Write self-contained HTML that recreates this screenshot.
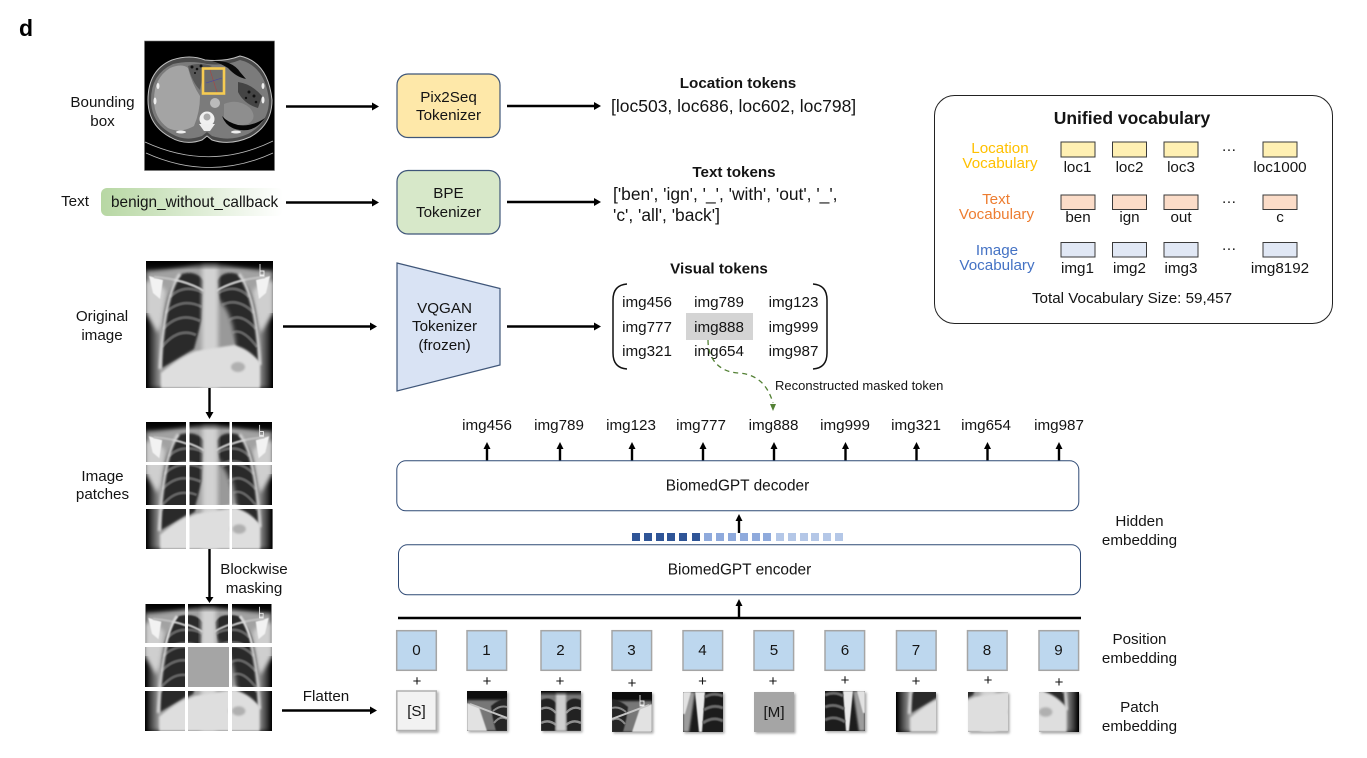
<!DOCTYPE html>
<html><head><meta charset="utf-8"><style>
html,body{margin:0;padding:0;background:#fff;width:1367px;height:758px;overflow:hidden}
svg{display:block}
text{font-family:"Liberation Sans",sans-serif;font-size:15.2px;fill:#141414}
.m{text-anchor:middle}
.b{font-weight:bold}
.a{stroke:#000;stroke-width:2.4;fill:none}
.h{fill:#000;stroke:none}
.p{fill:#bdd7ee;stroke:#a5a5a5;stroke-width:1.5}
.v{stroke:#3a3a3a;stroke-width:1}
.q{font-size:15px}
</style></head><body>
<svg width="1367" height="758" viewBox="0 0 1367 758" xmlns="http://www.w3.org/2000/svg">
<defs>
<linearGradient id="pill"><stop offset="0" stop-color="#b7d7a3"/><stop offset="1" stop-color="#fff"/></linearGradient>
<linearGradient id="edgeL"><stop offset="0" stop-color="#000"/><stop offset="1" stop-color="#000" stop-opacity="0"/></linearGradient>
<linearGradient id="edgeR"><stop offset="0" stop-color="#000" stop-opacity="0"/><stop offset="1" stop-color="#000"/></linearGradient>
<linearGradient id="topd" x1="0" y1="0" x2="0" y2="1"><stop offset="0" stop-color="#000"/><stop offset="1" stop-color="#000" stop-opacity="0"/></linearGradient>
<filter id="b05" x="-20%" y="-20%" width="140%" height="140%"><feGaussianBlur stdDeviation=".6"/></filter>
<filter id="b1" x="-20%" y="-20%" width="140%" height="140%"><feGaussianBlur stdDeviation="1"/></filter>
<filter id="b2" x="-20%" y="-20%" width="140%" height="140%"><feGaussianBlur stdDeviation="2.2"/></filter>
<filter id="sh" x="-10%" y="-10%" width="125%" height="125%"><feDropShadow dx="1.5" dy="1.5" stdDeviation="1.2" flood-color="#000" flood-opacity=".35"/></filter>
<g id="chest">
<rect width="127" height="127" fill="#101010"/>
<path d="M0 10 Q30 8 52 2 L75 2 Q97 8 127 10 L127 127 L0 127Z" fill="#a2a2a2" filter="url(#b2)"/>
<rect x="0" y="52" width="15" height="75" fill="url(#edgeL)"/>
<rect x="112" y="52" width="15" height="75" fill="url(#edgeR)"/>
<path d="M0 20 Q12 20 20 30 L16 62 L12 72 Q6 62 0 52Z" fill="#cfcfcf" filter="url(#b2)"/>
<path d="M127 20 Q115 20 107 30 L111 62 L115 72 Q121 62 127 52Z" fill="#cfcfcf" filter="url(#b2)"/>
<path d="M3 15 L17 19 L14 38 L7 32Z" fill="#f2f2f2" filter="url(#b05)"/>
<path d="M124 15 L110 19 L113 38 L120 32Z" fill="#f2f2f2" filter="url(#b05)"/>
<path d="M36 13 Q50 9 58 20 L56 58 L48 88 L16 107 Q14 62 22 36 Q27 20 36 13Z" fill="#2a2a2a" filter="url(#b1)"/>
<path d="M91 13 Q77 9 71 20 L74 45 L90 88 L113 100 Q114 62 106 36 Q101 20 91 13Z" fill="#2a2a2a" filter="url(#b1)"/>
<g fill="none" stroke="#7c7c7c" stroke-width="3" opacity=".7" filter="url(#b05)">
<path d="M24 36 Q38 22 58 32"/><path d="M19 52 Q36 36 56 46"/><path d="M17 68 Q34 50 54 60"/><path d="M16 86 Q32 66 50 74"/>
<path d="M103 36 Q90 22 72 32"/><path d="M108 52 Q92 36 76 44"/><path d="M110 68 Q94 50 82 60"/><path d="M111 86 Q96 66 86 72"/>
</g>
<path d="M8 16 Q38 18 58 30 M119 16 Q90 18 70 30" stroke="#bdbdbd" stroke-width="2.400" fill="none" filter="url(#b05)"/>
<path d="M34 13 Q18 34 14 108 M93 13 Q110 34 114 104" stroke="#d8d8d8" stroke-width="3" fill="none" filter="url(#b1)"/>
<path d="M72 38 Q88 52 90 88 L70 88Z" fill="#999" filter="url(#b2)"/>
<rect x="56" y="0" width="16" height="127" fill="#d2d2d2" filter="url(#b2)"/>
<path d="M15 112 Q34 96 50 90 L88 84 Q104 88 114 102 L114 127 L15 127Z" fill="#dedede" filter="url(#b1)"/>
<ellipse cx="92" cy="106" rx="7" ry="5" fill="#b0b0b0" filter="url(#b1)"/>
<rect x="0" y="0" width="127" height="9" fill="url(#topd)"/>
<path d="M114 3 V14 H118 M114 10 h4 v5 h-4z" stroke="#eee" stroke-width=".9" fill="none"/>
</g>
<g id="p1">
<rect width="40" height="40" fill="#0d0d0d"/>
<path d="M0 9 H40 V40 H0Z" fill="#777" filter="url(#b1)"/>
<path d="M0 12 L12 16 L20 40 H0Z" fill="#e2e2e2" filter="url(#b05)"/>
<path d="M24 15 Q32 8 40 7 V40 H29 Q25 26 24 15Z" fill="#272727" filter="url(#b05)"/>
<path d="M26 20 Q33 14 40 16 M27 32 Q33 24 40 28" stroke="#888" stroke-width="2" fill="none"/>
<path d="M3 13 L40 27" stroke="#c4c4c4" stroke-width="2" fill="none"/>
</g>
<g id="p2">
<rect width="40" height="40" fill="#777"/>
<path d="M0 9 Q9 5 15 12 L14 40 H0Z" fill="#222" filter="url(#b05)"/>
<path d="M40 9 Q31 5 25 12 L26 40 H40Z" fill="#222" filter="url(#b05)"/>
<path d="M0 18 Q8 14 15 22 M0 32 Q8 28 15 34 M40 18 Q32 14 25 22 M40 32 Q32 28 25 34" stroke="#8e8e8e" stroke-width="2.400" fill="none"/>
<rect x="15" width="10" height="40" fill="#cfcfcf" filter="url(#b1)"/>
<rect width="40" height="5" fill="url(#topd)"/>
</g>
<g id="p4">
<rect width="40" height="40" fill="#1d1d1d"/>
<path d="M0 0 H12 L6 40 H0Z" fill="#9c9c9c" filter="url(#b1)"/>
<path d="M0 0 H8 L2 22 L0 22Z" fill="#e2e2e2" filter="url(#b05)"/>
<path d="M12 0 H22 L19 40 H16Z" fill="#eaeaea" filter="url(#b05)"/>
<path d="M22 5 Q30 0 40 4 M21 18 Q30 12 40 16 M20 31 Q30 24 40 29" stroke="#6a6a6a" stroke-width="3" fill="none" filter="url(#b05)"/>
</g>
</defs>

<text x="19" y="36" class="b" style="font-size:23px;fill:#000">d</text>

<!-- CT -->
<rect x="144.500" y="41" width="130" height="129.500" fill="#000" stroke="#777" stroke-width=".6"/>
<path d="M148 100 Q148 70 172 60 Q190 54 205 60 Q225 62 240 56 Q268 62 272 100 Q272 125 250 137 Q230 146 212 140 L207 136 L202 140 Q185 146 170 137 Q148 125 148 100Z" fill="#4a4a4a" stroke="#c0c0c0" stroke-width="1"/>
<path d="M151 100 Q151 74 173 64 Q190 60 207 64 Q226 66 240 60 Q265 66 269 100 Q269 123 248 134 Q230 142 212 136 L207 132 L202 136 Q185 142 172 134 Q151 123 151 100Z" fill="#7b7b7b"/>
<path d="M154 100 Q154 78 170 68 Q182 63 188 68 Q192 84 200 96 Q200 112 194 126 Q180 134 168 128 Q154 118 154 100Z" fill="#a4a4a4"/>
<path d="M188 66 Q198 62 212 66 L204 70 L200 90 Q192 82 188 66Z" fill="#575757"/>
<g fill="#111"><circle cx="192" cy="67" r="1.500"/><circle cx="197" cy="69" r="1.300"/><circle cx="201" cy="66" r="1.500"/><circle cx="195" cy="73" r="1"/></g>
<path d="M224 104 Q238 98 250 108 Q258 118 248 124 Q232 128 224 118Z" fill="#8e8e8e"/>
<path d="M222 116 Q228 132 248 130 Q258 128 265 118 Q252 127 238 125 Q227 122 222 116Z" fill="#050505"/>
<path d="M212 61 Q232 60 240 72 L246 79 Q236 77 228 68Q220 63 212 61Z" fill="#0a0a0a"/>
<path d="M238 82 Q252 84 262 96 L258 108 Q244 104 238 92Z" fill="#444"/>
<g fill="#111"><circle cx="249" cy="92" r="1.500"/><circle cx="254" cy="96" r="1.500"/><circle cx="256" cy="102" r="1.300"/><circle cx="246" cy="98" r="1.200"/></g>
<circle cx="207" cy="119" r="7.500" fill="#f0f0f0"/><circle cx="207" cy="117" r="3.500" fill="#aaa"/>
<circle cx="215" cy="103" r="5" fill="#bbb"/>
<path d="M199 124 L215 124 L210 131 L204 131Z" fill="#eee"/>
<path d="M145 142 Q210 172 273 141 M146 153 Q210 182 273 153" fill="none" stroke="#bbb" stroke-width=".8"/>
<ellipse cx="181" cy="132" rx="5" ry="1.500" fill="#eee"/><ellipse cx="236" cy="132" rx="5" ry="1.500" fill="#eee"/>
<ellipse cx="155" cy="101" rx="1.500" ry="3.500" fill="#eee"/><ellipse cx="158" cy="86" rx="1.500" ry="3" fill="#eee"/><ellipse cx="263" cy="100" rx="1.500" ry="3.500" fill="#eee"/><ellipse cx="263" cy="86" rx="1.500" ry="3" fill="#eee"/>
<rect x="203" y="68.500" width="21" height="25" fill="#6c6c6c" stroke="#f6cb52" stroke-width="2.600"/>
<path d="M210 70 L217 92" stroke="#a44" stroke-width=".6"/><path d="M206 83 L222 78" stroke="#44a" stroke-width=".6"/>

<text x="102.500" y="107" class="m">Bounding</text><text x="102.500" y="126" class="m">box</text>
<text x="75" y="206" class="m">Text</text>
<rect x="101" y="188" width="182" height="28" rx="6" fill="url(#pill)"/>
<text x="111" y="207" style="font-size:15.350px">benign_without_callback</text>

<svg x="146" y="261" width="127" height="127" viewBox="0 0 127 127"><use href="#chest"/></svg>
<text x="102" y="321" class="m">Original</text><text x="102" y="340" class="m">image</text>

<!-- top patches -->
<g>
<svg x="146" y="422" width="40" height="40" viewBox="0 0 42 42"><use href="#chest"/></svg>
<svg x="189.500" y="422" width="40" height="40" viewBox="42.500 0 42 42"><use href="#chest"/></svg>
<svg x="232" y="422" width="40" height="40" viewBox="85 0 42 42"><use href="#chest"/></svg>
<svg x="146" y="465" width="40" height="40" viewBox="0 42.500 42 42"><use href="#chest"/></svg>
<svg x="189.500" y="465" width="40" height="40" viewBox="42.500 42.500 42 42"><use href="#chest"/></svg>
<svg x="232" y="465" width="40" height="40" viewBox="85 42.500 42 42"><use href="#chest"/></svg>
<svg x="146" y="509" width="40" height="40" viewBox="0 85 42 42"><use href="#chest"/></svg>
<svg x="189.500" y="509" width="40" height="40" viewBox="42.500 85 42 42"><use href="#chest"/></svg>
<svg x="232" y="509" width="41" height="40" viewBox="85 85 42 42"><use href="#chest"/></svg>
</g>
<text x="102.500" y="481" class="m">Image</text><text x="102.500" y="499" class="m">patches</text>

<!-- masked patches -->
<g>
<svg x="145" y="604" width="40" height="39" viewBox="0 0 42 42"><use href="#chest"/></svg>
<svg x="188" y="604" width="40" height="39" viewBox="42.500 0 42 42"><use href="#chest"/></svg>
<svg x="232" y="604" width="40" height="39" viewBox="85 0 42 42"><use href="#chest"/></svg>
<svg x="145" y="647" width="40" height="40" viewBox="0 42.500 42 42"><use href="#chest"/></svg>
<rect x="188" y="647" width="41" height="40" fill="#a5a5a5"/>
<svg x="232" y="647" width="40" height="40" viewBox="85 42.500 42 42"><use href="#chest"/></svg>
<svg x="145" y="691" width="40" height="40" viewBox="0 85 42 42"><use href="#chest"/></svg>
<svg x="188" y="691" width="40" height="40" viewBox="42.500 85 42 42"><use href="#chest"/></svg>
<svg x="232" y="691" width="40" height="40" viewBox="85 85 42 42"><use href="#chest"/></svg>
</g>

<text x="254" y="574" class="m">Blockwise</text><text x="254" y="593" class="m">masking</text>
<text x="326" y="701" class="m">Flatten</text>

<!-- left arrows -->
<path class="a" d="M286 106.500H372M286 202.500H372M283 326.500H370M507 106H594M507 202H594M507 326.500H594M282 710.500H370"/>
<path class="h" d="M372 102.500L379 106.500L372 110.500ZM372 198.500L379 202.500L372 206.500ZM370 322.500L377 326.500L370 330.500ZM594 102L601 106L594 110ZM594 198L601 202L594 206ZM594 322.500L601 326.500L594 330.500ZM370 706.500L377 710.500L370 714.500Z"/>
<path class="a" d="M209.500 388V412M209.500 549V597"/>
<path class="h" d="M205.500 412L209.500 419L213.500 412ZM205.500 597L209.500 603L213.500 597Z"/>

<!-- tokenizers -->
<rect x="397" y="74" width="103" height="63.500" rx="11" fill="#fee8a9" stroke="#3f5679" stroke-width="1.200"/>
<text x="448.500" y="102" class="m">Pix2Seq</text><text x="448.500" y="120" class="m">Tokenizer</text>
<rect x="397" y="170.500" width="103" height="63.500" rx="11" fill="#d7e8c9" stroke="#3f5679" stroke-width="1.200"/>
<text x="448.500" y="198" class="m">BPE</text><text x="448.500" y="217" class="m">Tokenizer</text>
<path d="M397 263L500 288.500V365L397 391Z" fill="#d9e3f4" stroke="#3f5679" stroke-width="1.200"/>
<text x="444.500" y="313" class="m">VQGAN</text><text x="444.500" y="331" class="m">Tokenizer</text><text x="444.500" y="350" class="m">(frozen)</text>

<!-- tokens -->
<text x="738" y="88" class="m b">Location tokens</text>
<text x="611" y="112" style="font-size:17.500px">[loc503, loc686, loc602, loc798]</text>
<text x="734" y="177" class="m b">Text tokens</text>
<text x="613" y="200" style="font-size:17.400px">['ben', 'ign', '_', 'with', 'out', '_',</text>
<text x="613" y="221" style="font-size:17.400px">'c', 'all', 'back']</text>
<text x="719" y="273.500" class="m b">Visual tokens</text>

<rect x="686" y="313" width="67" height="27" fill="#d4d4d4"/>
<path d="M627 284 Q613 285 613 300V353Q613 368 627 369M813 284Q827 285 827 300V353Q827 368 813 369" fill="none" stroke="#111" stroke-width="1.500"/>
<text x="647" y="307" class="m">img456</text><text x="719" y="307" class="m">img789</text><text x="793.500" y="307" class="m">img123</text>
<text x="647" y="332" class="m">img777</text><text x="719" y="332" class="m">img888</text><text x="793.500" y="332" class="m">img999</text>
<text x="647" y="356" class="m">img321</text><text x="719" y="356" class="m">img654</text><text x="793.500" y="356" class="m">img987</text>

<path d="M708 340 C708 362 722 372 738 373 C758 374 768 386 773 403" fill="none" stroke="#538135" stroke-width="1.300" stroke-dasharray="5 4"/>
<path d="M770 404L773 411L776 404Z" fill="#538135"/>
<text x="775" y="390" style="font-size:13px">Reconstructed masked token</text>

<!-- output tokens -->
<text x="487" y="430" class="m">img456</text><text x="559" y="430" class="m">img789</text><text x="631" y="430" class="m">img123</text><text x="701" y="430" class="m">img777</text><text x="773.500" y="430" class="m">img888</text><text x="845" y="430" class="m">img999</text><text x="916" y="430" class="m">img321</text><text x="986" y="430" class="m">img654</text><text x="1059" y="430" class="m">img987</text>
<g>
<path class="a" d="M487 461V447M560 461V447M632 461V447M703 461V447M774 461V447M845.500 461V447M916.500 461V447M987.500 461V447M1059 461V447M739 533V519M739 618V604"/>
<path class="h" d="M483.500 449L487 442L490.500 449ZM556.500 449L560 442L563.500 449ZM628.500 449L632 442L635.500 449ZM699.500 449L703 442L706.500 449ZM770.500 449L774 442L777.500 449ZM842 449L845.500 442L849 449ZM913 449L916.500 442L920 449ZM984 449L987.500 442L991 449ZM1055.500 449L1059 442L1062.500 449ZM735.500 521L739 514L742.500 521ZM735.500 606L739 599L742.500 606Z"/>
</g>

<rect x="396.800" y="460.800" width="682" height="50" rx="9" fill="#fff" stroke="#2f4a75" stroke-width="1"/>
<text x="737.500" y="490.500" class="m" style="font-size:15.400px">BiomedGPT decoder</text>
<rect x="398.500" y="544.800" width="682" height="50" rx="9" fill="#fff" stroke="#2f4a75" stroke-width="1"/>
<text x="739.500" y="574.500" class="m" style="font-size:15.400px">BiomedGPT encoder</text>

<g fill="#2f5597"><rect x="632" y="533" width="8" height="8"/><rect x="644" y="533" width="8" height="8"/><rect x="656" y="533" width="8" height="8"/><rect x="667" y="533" width="8" height="8"/><rect x="679" y="533" width="8" height="8"/><rect x="692" y="533" width="8" height="8"/></g>
<g fill="#8faadc"><rect x="704" y="533" width="8" height="8"/><rect x="716" y="533" width="8" height="8"/><rect x="728" y="533" width="8" height="8"/><rect x="740" y="533" width="8" height="8"/><rect x="752" y="533" width="8" height="8"/><rect x="763" y="533" width="8" height="8"/></g>
<g fill="#b4c7e7"><rect x="776" y="533" width="8" height="8"/><rect x="788" y="533" width="8" height="8"/><rect x="800" y="533" width="8" height="8"/><rect x="811" y="533" width="8" height="8"/><rect x="823" y="533" width="8" height="8"/><rect x="835" y="533" width="8" height="8"/></g>

<path d="M398 618H1081" stroke="#000" stroke-width="2.400"/>

<!-- position -->
<g>
<rect class="p" x="396.700" y="630.700" width="39.600" height="39.600"/><rect class="p" x="467" y="630.700" width="39.600" height="39.600"/><rect class="p" x="541" y="630.700" width="39.600" height="39.600"/><rect class="p" x="612" y="630.700" width="39.600" height="39.600"/><rect class="p" x="683" y="630.700" width="39.600" height="39.600"/><rect class="p" x="754" y="630.700" width="39.600" height="39.600"/><rect class="p" x="825" y="630.700" width="39.600" height="39.600"/><rect class="p" x="896.500" y="630.700" width="39.600" height="39.600"/><rect class="p" x="967.500" y="630.700" width="39.600" height="39.600"/><rect class="p" x="1039" y="630.700" width="39.600" height="39.600"/>
</g>
<text x="416.500" y="655" class="m">0</text><text x="486.500" y="655" class="m">1</text><text x="560.500" y="655" class="m">2</text><text x="631.500" y="655" class="m">3</text><text x="702.500" y="655" class="m">4</text><text x="774" y="655" class="m">5</text><text x="845" y="655" class="m">6</text><text x="916" y="655" class="m">7</text><text x="987" y="655" class="m">8</text><text x="1058.500" y="655" class="m">9</text>
<text x="417" y="686" class="m q">+</text><text x="487" y="686" class="m q">+</text><text x="560" y="686" class="m q">+</text><text x="632" y="688" class="m q">+</text><text x="702.500" y="686" class="m q">+</text><text x="773" y="686" class="m q">+</text><text x="845" y="685" class="m q">+</text><text x="916" y="686" class="m q">+</text><text x="988" y="685" class="m q">+</text><text x="1059" y="687" class="m q">+</text>

<!-- patch embedding -->
<rect x="396.800" y="691" width="39.500" height="39.500" fill="#f2f2f2" stroke="#b0b0b0" stroke-width="1.500" filter="url(#sh)"/>
<text x="416.500" y="716" class="m">[S]</text>
<g filter="url(#sh)">
<svg x="467" y="691" width="40" height="40" viewBox="0 0 40 40"><use href="#p1"/></svg>
<svg x="541" y="691" width="40" height="40" viewBox="0 0 40 40"><use href="#p2"/></svg>
<svg x="612" y="692" width="40" height="40" viewBox="0 0 40 40"><use href="#p1" transform="translate(40,0) scale(-1,1)"/><path d="M28 3V13H32M28 9h4v5h-4z" stroke="#eee" stroke-width=".9" fill="none"/></svg>
<svg x="683" y="692" width="40" height="40" viewBox="0 0 40 40"><use href="#p4"/></svg>
<rect x="754" y="692" width="40" height="40" fill="#a5a5a5"/>
<svg x="825" y="691" width="40" height="40" viewBox="0 0 40 40"><use href="#p4" transform="translate(40,0) scale(-1,1)"/></svg>
<svg x="896" y="692" width="40" height="40" viewBox="85 85 42 42" style="display:none"></svg>
<svg x="896" y="692" width="40" height="40" viewBox="0 85 42 42"><use href="#chest"/></svg>
<svg x="968" y="692" width="40" height="40" viewBox="42.500 85 42 42"><use href="#chest"/></svg>
<svg x="1039" y="692" width="40" height="40" viewBox="85 85 42 42"><use href="#chest"/></svg>
</g>
<text x="774" y="717" class="m">[M]</text>

<text x="1139.500" y="526" class="m">Hidden</text><text x="1139.500" y="545" class="m">embedding</text>
<text x="1139.500" y="644" class="m">Position</text><text x="1139.500" y="663" class="m">embedding</text>
<text x="1139.500" y="712" class="m">Patch</text><text x="1139.500" y="731" class="m">embedding</text>

<!-- vocabulary -->
<rect x="934.500" y="95.500" width="398" height="228" rx="20" fill="#fff" stroke="#222" stroke-width="1"/>
<text x="1132" y="124" class="m b" style="font-size:17.500px">Unified vocabulary</text>
<text x="1000" y="153" class="m" style="fill:#ffc000">Location</text><text x="1000" y="168" class="m" style="fill:#ffc000">Vocabulary</text>
<text x="996" y="204" class="m" style="fill:#ed7d31">Text</text><text x="996.500" y="219" class="m" style="fill:#ed7d31">Vocabulary</text>
<text x="997" y="255" class="m" style="fill:#4472c4">Image</text><text x="997" y="270" class="m" style="fill:#4472c4">Vocabulary</text>
<g fill="#fff0b3"><rect class="v" x="1061" y="142" width="34" height="15"/><rect class="v" x="1112.500" y="142" width="34" height="15"/><rect class="v" x="1164" y="142" width="34" height="15"/><rect class="v" x="1263" y="142" width="34" height="15"/></g>
<g fill="#fbdcc8"><rect class="v" x="1061" y="195" width="34" height="14.500"/><rect class="v" x="1112.500" y="195" width="34" height="14.500"/><rect class="v" x="1164" y="195" width="34" height="14.500"/><rect class="v" x="1263" y="195" width="34" height="14.500"/></g>
<g fill="#e1e8f5"><rect class="v" x="1061" y="242.500" width="34" height="14.500"/><rect class="v" x="1112.500" y="242.500" width="34" height="14.500"/><rect class="v" x="1164" y="242.500" width="34" height="14.500"/><rect class="v" x="1263" y="242.500" width="34" height="14.500"/></g>
<text x="1077.500" y="172" class="m">loc1</text><text x="1129.500" y="172" class="m">loc2</text><text x="1181" y="172" class="m">loc3</text><text x="1280" y="172" class="m">loc1000</text>
<text x="1078" y="222" class="m">ben</text><text x="1129.500" y="222" class="m">ign</text><text x="1181" y="222" class="m">out</text><text x="1280" y="222" class="m">c</text>
<text x="1077.500" y="273" class="m">img1</text><text x="1129.500" y="273" class="m">img2</text><text x="1181" y="273" class="m">img3</text><text x="1280" y="273" class="m">img8192</text>
<text x="1229" y="151" class="m">…</text><text x="1229" y="203" class="m">…</text><text x="1229" y="250" class="m">…</text>
<text x="1132" y="303" class="m">Total Vocabulary Size: 59,457</text>
</svg>
</body></html>
